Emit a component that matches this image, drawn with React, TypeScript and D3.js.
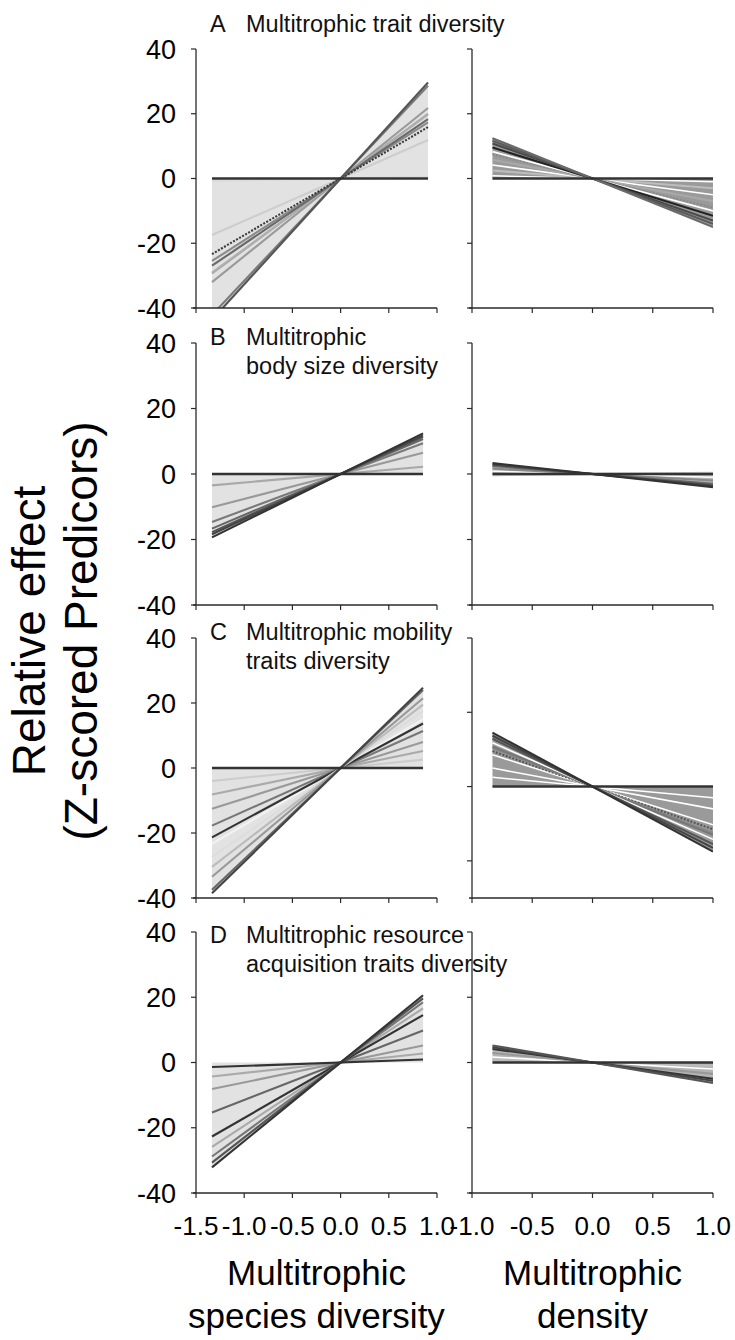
import React from "react";
import * as d3 from "d3";

// ---------- data ----------
const leftXTicks = [-1.5, -1.0, -0.5, 0.0, 0.5, 1.0];
const rightXTicks = [-1.0, -0.5, 0.0, 0.5, 1.0];
const yTicks = [40, 20, 0, -20, -40];
const yTicksRightC = [40, 20, 0, -20];

const panelLetters = ["A", "B", "C", "D"];
const panelTitles = [
  ["Multitrophic trait diversity"],
  ["Multitrophic", "body size diversity"],
  ["Multitrophic mobility", "traits diversity"],
  ["Multitrophic resource", "acquisition traits diversity"],
];

// observed predictor ranges (x extent of each fitted line)
const leftExtentA = [-1.334, 0.907];
const leftExtentOther = [-1.334, 0.855];
const rightExtent = [-0.83, 1.0];

// slopes (effect per unit predictor) and greys of each fitted line
const slopesAL = [0.6, 13.1, 22.0, 24.0, 21.8, 19.1, 20.2, 17.5, 31.6, 32.7, 0];
const greysAL = ["#dcdcdc", "#cdcdcd", "#a0a0a0", "#9a9a9a", "#b0b0b0", "#8a8a8a", "#6a6a6a", "#3a3a3a", "#7a7a7a", "#555555", "#333333"];
const dashAL = [0, 0, 0, 0, 0, 0, 0, 1, 0, 0, 0];

const slopesAR = [-1, -3, -5, -7, -9, -10, -11.5, -13, -14, -15, 0];
const greysAR = ["#ffffff", "#bdbdbd", "#ffffff", "#a8a8a8", "#8a8a8a", "#ffffff", "#222222", "#4a4a4a", "#5a5a5a", "#6a6a6a", "#333333"];
const dashAR = [0, 0, 0, 0, 1, 0, 0, 0, 0, 0, 0];

const slopesBL = [2.6, 7.6, 11.0, 12.5, 13.3, 13.8, 14.5, 0];
const greysBL = ["#a8a8a8", "#999999", "#7a7a7a", "#666666", "#555555", "#444444", "#333333", "#333333"];
const dashBL = [0, 0, 0, 0, 0, 0, 0, 0];

const slopesBR = [0.4, -1, -2, -3, -3.5, -4, 0];
const greysBR = ["#c8c8c8", "#ffffff", "#888888", "#666666", "#444444", "#333333", "#333333"];
const dashBR = [0, 0, 0, 0, 0, 0, 0];

const slopesCL = [3.0, 6.1, 9.4, 17.5, 13.3, 16.0, 20.5, 22.8, 25.1, 28.1, 28.9, 0];
const greysCL = ["#cccccc", "#aaaaaa", "#999999", "#f2f2f2", "#777777", "#333333", "#dddddd", "#bbbbbb", "#999999", "#666666", "#444444", "#333333"];
const dashCL = [0, 0, 0, 0, 0, 0, 0, 0, 0, 0, 0, 0];

const slopesCR = [-3, -6, -10.3, -11.5, -12.5, -13, -14.2, -15.5, -16.5, -17.5, 0];
const greysCR = ["#ffffff", "#ffffff", "#ffffff", "#555555", "#888888", "#777777", "#ffffff", "#555555", "#444444", "#333333", "#333333"];
const dashCR = [0, 0, 0, 1, 0, 0, 0, 0, 0, 0, 0];

const slopesDL = [3.2, 6.1, 11.5, 19.4, 17.0, 21.6, 23.0, 24.1, 1.05];
const greysDL = ["#aaaaaa", "#999999", "#666666", "#aaaaaa", "#333333", "#777777", "#555555", "#333333", "#333333"];
const dashDL = [0, 0, 0, 0, 0, 0, 0, 0, 0];

const slopesDR = [-1, -2, -3.5, -5, -5.6, -6.3, 0];
const greysDR = ["#bbbbbb", "#ffffff", "#999999", "#333333", "#444444", "#555555", "#333333"];
const dashDR = [0, 0, 0, 0, 0, 0, 0];

// ---------- layout ----------
const W = 735;
const H = 1340;
const FONT = "'Liberation Sans', Arial, Helvetica, sans-serif";
const leftRange = [196, 437];
const rightRange = [472, 713];
const panelRows = [
  [49, 308],
  [343, 605],
  [638, 898],
  [932, 1193],
];
const AXIS = "#2a2a2a";

type Series = { slopes: number[]; greys: string[]; dash: number[] };

const leftSeries: Series[] = [
  { slopes: slopesAL, greys: greysAL, dash: dashAL },
  { slopes: slopesBL, greys: greysBL, dash: dashBL },
  { slopes: slopesCL, greys: greysCL, dash: dashCL },
  { slopes: slopesDL, greys: greysDL, dash: dashDL },
];
const rightSeries: Series[] = [
  { slopes: slopesAR, greys: greysAR, dash: dashAR },
  { slopes: slopesBR, greys: greysBR, dash: dashBR },
  { slopes: slopesCR, greys: greysCR, dash: dashCR },
  { slopes: slopesDR, greys: greysDR, dash: dashDR },
];

function Panel(props: {
  id: string;
  xDomain: number[];
  xRange: number[];
  yDomain: number[];
  yRow: number[];
  xTicks: number[];
  yTickVals: number[];
  extent: number[];
  series: Series;
  fill: string;
  showYLabels: boolean;
  showXLabels: boolean;
}) {
  const { id, xDomain, xRange, yDomain, yRow, xTicks, yTickVals, extent, series, fill, showYLabels, showXLabels } = props;
  const x = d3.scaleLinear().domain(xDomain).range(xRange);
  const y = d3.scaleLinear().domain(yDomain).range([yRow[1], yRow[0]]);
  const [x0, x1] = extent;
  const sMax = series.slopes.reduce((a, b) => (Math.abs(b) > Math.abs(a) ? b : a), 0);
  const line = d3
    .line<number[]>()
    .x((d) => x(d[0]))
    .y((d) => y(d[1]));
  const fillPath =
    line([
      [x0, 0],
      [x0, sMax * x0],
      [0, 0],
      [x1, sMax * x1],
      [x1, 0],
    ]) + "Z";
  const clipId = "clip-" + id;
  return (
    <g>
      <defs>
        <clipPath id={clipId}>
          <rect x={xRange[0]} y={yRow[0]} width={xRange[1] - xRange[0]} height={yRow[1] - yRow[0]} />
        </clipPath>
      </defs>
      <g clipPath={`url(#${clipId})`}>
        <path d={fillPath} fill={fill} stroke="none" />
        {series.slopes.map((s, i) => {
          const isZero = s === 0;
          const white = series.greys[i] === "#ffffff";
          return (
            <path
              key={i}
              d={line([
                [x0, s * x0],
                [x1, s * x1],
              ]) as string}
              fill="none"
              stroke={series.greys[i]}
              strokeWidth={isZero ? 2.6 : white ? 1.6 : 2.1}
              strokeDasharray={series.dash[i] ? "2,1.5" : undefined}
            />
          );
        })}
      </g>
      {/* y axis */}
      <line x1={xRange[0]} x2={xRange[0]} y1={yRow[0]} y2={yRow[1]} stroke={AXIS} strokeWidth={1.3} />
      {yTickVals.map((t) => (
        <g key={"y" + t}>
          <line x1={xRange[0] - 5} x2={xRange[0]} y1={y(t)} y2={y(t)} stroke={AXIS} strokeWidth={1.2} />
          {showYLabels && (
            <text x={xRange[0] - 20} y={y(t)} dy="0.36em" textAnchor="end" fontSize={27} fontFamily={FONT} fill="#000">
              {t}
            </text>
          )}
        </g>
      ))}
      {/* x axis */}
      <line x1={xRange[0] - 3} x2={xRange[1]} y1={yRow[1]} y2={yRow[1]} stroke={AXIS} strokeWidth={1.3} />
      {xTicks.map((t) => (
        <g key={"x" + t}>
          <line x1={x(t)} x2={x(t)} y1={yRow[1]} y2={yRow[1] + 5} stroke={AXIS} strokeWidth={1.2} />
          {showXLabels && (
            <text x={x(t)} y={yRow[1] + 42} textAnchor="middle" fontSize={26} fontFamily={FONT} fill="#000">
              {t.toFixed(1)}
            </text>
          )}
        </g>
      ))}
    </g>
  );
}

const titleBaselines = [32, 345, 640, 943];

export default function App() {
  return (
    <svg width={W} height={H} viewBox={`0 0 ${W} ${H}`} style={{ position: "absolute", left: 0, top: 0, background: "#fff" }}>
      <rect x={0} y={0} width={W} height={H} fill="#fff" />
      {panelRows.map((row, i) => (
        <g key={i}>
          <Panel
            id={"L" + i}
            xDomain={[-1.5, 1.0]}
            xRange={leftRange}
            yDomain={[-40, 40]}
            yRow={row}
            xTicks={leftXTicks}
            yTickVals={yTicks}
            extent={i === 0 ? leftExtentA : leftExtentOther}
            series={leftSeries[i]}
            fill="#e2e2e2"
            showYLabels={true}
            showXLabels={i === 3}
          />
          <Panel
            id={"R" + i}
            xDomain={[-1.0, 1.0]}
            xRange={rightRange}
            yDomain={i === 2 ? [-30, 40] : [-40, 40]}
            yRow={row}
            xTicks={rightXTicks}
            yTickVals={i === 2 ? yTicksRightC : yTicks}
            extent={rightExtent}
            series={rightSeries[i]}
            fill={i === 1 || i === 3 ? "#b4b4b4" : "#9a9a9a"}
            showYLabels={false}
            showXLabels={i === 3}
          />
          <text x={210} y={titleBaselines[i]} fontSize={23.5} fontFamily={FONT} fill="#111">
            {panelLetters[i]}
          </text>
          {panelTitles[i].map((s, j) => (
            <text key={j} x={246} y={titleBaselines[i] + j * 29} fontSize={23.5} fontFamily={FONT} fill="#111">
              {s}
            </text>
          ))}
        </g>
      ))}
      {/* y axis title */}
      <text transform="translate(45,631) rotate(-90)" textAnchor="middle" fontSize={46} fontFamily={FONT} fill="#000">
        Relative effect
      </text>
      <text transform="translate(97,631) rotate(-90)" textAnchor="middle" fontSize={46} fontFamily={FONT} fill="#000">
        (Z-scored Predicors)
      </text>
      {/* x axis titles */}
      <text x={(leftRange[0] + leftRange[1]) / 2} y={1285} textAnchor="middle" fontSize={35} fontFamily={FONT} fill="#000">
        Multitrophic
      </text>
      <text x={(leftRange[0] + leftRange[1]) / 2} y={1328} textAnchor="middle" fontSize={35} fontFamily={FONT} fill="#000">
        species diversity
      </text>
      <text x={(rightRange[0] + rightRange[1]) / 2} y={1285} textAnchor="middle" fontSize={35} fontFamily={FONT} fill="#000">
        Multitrophic
      </text>
      <text x={(rightRange[0] + rightRange[1]) / 2} y={1328} textAnchor="middle" fontSize={35} fontFamily={FONT} fill="#000">
        density
      </text>
    </svg>
  );
}
